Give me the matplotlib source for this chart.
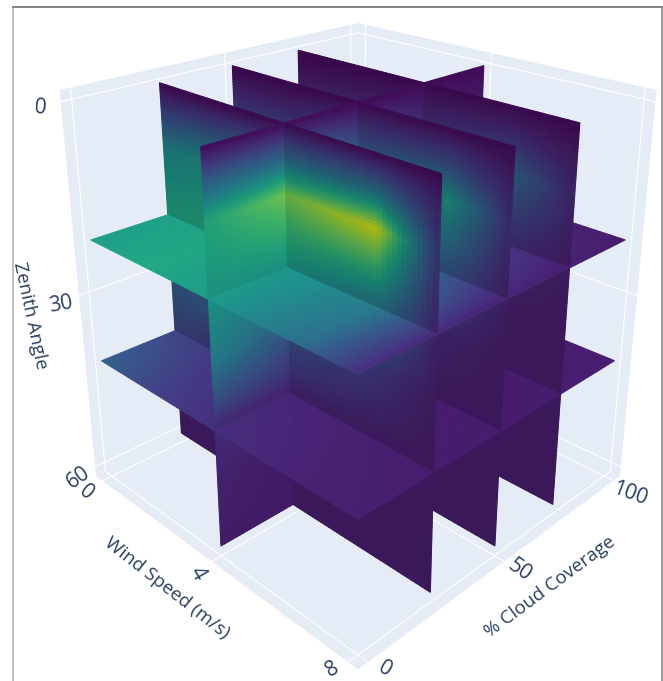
import numpy as np
import matplotlib
matplotlib.use("Agg")
import matplotlib.pyplot as plt
from matplotlib.lines import Line2D
from mpl_toolkits.mplot3d.art3d import Poly3DCollection

plt.rcParams["font.family"] = ["Open Sans", "DejaVu Sans"]

wind_grid = [0, 2, 4, 6.5, 8]
cloud_grid = [0, 25, 50, 75, 100]
zenith_grid = [0, 5, 10, 20, 30, 40, 50, 60]

# values, rows = wind, columns = cloud
zen00 = [[.02, .02, .02, .02, .02], [.02, .02, .02, .02, .02], [.03, .03, .03, .03, .03],
         [.03, .03, .03, .03, .03], [.03, .03, .03, .03, .03]]
zen05 = [[.25, .24, .14, .09, .06], [.30, .28, .15, .10, .06], [.33, .36, .22, .12, .07],
         [.33, .40, .25, .16, .07], [.12, .12, .10, .08, .06]]
zen10 = [[.50, .48, .30, .20, .12], [.55, .55, .32, .22, .12], [.62, .80, .45, .25, .10],
         [.60, .95, .55, .33, .10], [.20, .16, .14, .12, .08]]
zen20 = [[.58, .60, .45, .25, .12], [.62, .62, .45, .25, .12], [.56, .56, .40, .22, .10],
         [.38, .44, .28, .15, .09], [.14, .12, .10, .09, .08]]
zen30 = [[.40, .32, .25, .14, .08], [.42, .38, .25, .14, .08], [.45, .30, .18, .10, .08],
         [.25, .18, .12, .09, .08], [.10, .09, .08, .08, .07]]
zen40 = [[.33, .22, .14, .10, .08], [.20, .16, .11, .09, .08], [.14, .11, .09, .08, .08],
         [.10, .09, .08, .08, .08], [.09, .08, .08, .08, .08]]
zen50 = [[.12, .10, .08, .08, .08], [.10, .09, .08, .08, .08], [.10, .08, .08, .08, .08],
         [.08, .08, .08, .08, .08], [.08, .08, .08, .08, .08]]
zen60 = [[.08, .08, .08, .08, .08], [.08, .08, .08, .08, .08], [.08, .08, .08, .08, .08],
         [.08, .08, .08, .08, .08], [.08, .08, .08, .08, .08]]
volume = np.array([zen00, zen05, zen10, zen20, zen30, zen40, zen50, zen60])

wind_slices = [4]
cloud_slices = [25, 50, 75]
zenith_slices = [21, 41]

wind_ticks = [0, 4, 8]
cloud_ticks = [0, 50, 100]
zenith_ticks = [0, 30, 60]

wind_lim = (-0.26, 8.26)
cloud_lim = (-3.2, 103.2)
zenith_lim = (-1.7, 61.7)

pane_col = "#E5ECF6"
text_col = "#2a3f5f"

W, H = 663, 681
fig = plt.figure(figsize=(W / 100, H / 100), dpi=100, facecolor="white")

# look-at point of the camera sits high up the box, so the z range runs past the panes
S = 859.4
ax = fig.add_axes([(358 - 0.5135 * S) / W, (H - 192 - 0.5135 * S) / H, S / W, S / H],
                  projection="3d")
ax.set_proj_type("persp", focal_length=0.2525)
ax.view_init(elev=21, azim=-45)
ax.set_box_aspect((1, 1, 1.642))
ax.set_xlim(*wind_lim, view_margin=0)
ax.set_ylim(*cloud_lim, view_margin=0)
ax.set_zlim(61.7, -34.7, view_margin=0)
ax.set_axis_off()
ax.computed_zorder = False


def value(w, c, z):
    i = np.interp(z, zenith_grid, np.arange(len(zenith_grid)))
    j = np.interp(w, wind_grid, np.arange(len(wind_grid)))
    k = np.interp(c, cloud_grid, np.arange(len(cloud_grid)))
    i0, j0, k0 = min(int(i), 6), min(int(j), 3), min(int(k), 3)
    di, dj, dk = i - i0, j - j0, k - k0
    out = 0
    for a, wa in ((0, 1 - di), (1, di)):
        for b, wb in ((0, 1 - dj), (1, dj)):
            for d, wd in ((0, 1 - dk), (1, dk)):
                out += wa * wb * wd * volume[i0 + a, j0 + b, k0 + d]
    return out


# panes
wl, wh = wind_lim
cl, ch = cloud_lim
zl, zh = zenith_lim
panes = [
    [(wl, cl, zh), (wh, cl, zh), (wh, ch, zh), (wl, ch, zh)],
    [(wl, cl, zl), (wl, ch, zl), (wl, ch, zh), (wl, cl, zh)],
    [(wl, ch, zl), (wh, ch, zl), (wh, ch, zh), (wl, ch, zh)],
]
pane_coll = Poly3DCollection(panes, facecolors=pane_col, edgecolors=pane_col,
                             linewidths=0, zorder=1)
pane_coll.set_clip_on(False)
ax.add_collection3d(pane_coll)

# grid lines on the panes
grid_kw = dict(color="white", lw=0.8, zorder=2, clip_on=False)
for t in wind_ticks:
    ax.plot([t, t], [cl, ch], [zh, zh], **grid_kw)
    ax.plot([t, t], [ch, ch], [zl, zh], **grid_kw)
for t in cloud_ticks:
    ax.plot([wl, wh], [t, t], [zh, zh], **grid_kw)
    ax.plot([wl, wl], [t, t], [zl, zh], **grid_kw)
for t in zenith_ticks:
    ax.plot([wl, wl], [cl, ch], [t, t], **grid_kw)
    ax.plot([wl, wh], [ch, ch], [t, t], **grid_kw)

# slices, cut into small quads so the depth sort works where they cross
w_steps = np.arange(0, 8.01, 0.125)
c_steps = np.arange(0, 100.01, 1.25)
z_steps = np.arange(0, 60.01, 0.5)
viridis = plt.get_cmap("viridis")
polys = []
colors = []


def add_quad(corners, v, shade):
    polys.append(corners)
    rgb = np.array(viridis(v)[:3]) * shade
    colors.append(rgb)


for wx in wind_slices:
    for c0, c1 in zip(c_steps[:-1], c_steps[1:]):
        for z0, z1 in zip(z_steps[:-1], z_steps[1:]):
            add_quad([(wx, c0, z0), (wx, c1, z0), (wx, c1, z1), (wx, c0, z1)],
                     value(wx, (c0 + c1) / 2, (z0 + z1) / 2), 0.92)
for cx in cloud_slices:
    for w0, w1 in zip(w_steps[:-1], w_steps[1:]):
        for z0, z1 in zip(z_steps[:-1], z_steps[1:]):
            add_quad([(w0, cx, z0), (w1, cx, z0), (w1, cx, z1), (w0, cx, z1)],
                     value((w0 + w1) / 2, cx, (z0 + z1) / 2), 0.8)
for zx in zenith_slices:
    for w0, w1 in zip(w_steps[:-1], w_steps[1:]):
        for c0, c1 in zip(c_steps[:-1], c_steps[1:]):
            add_quad([(w0, c0, zx), (w1, c0, zx), (w1, c1, zx), (w0, c1, zx)],
                     value((w0 + w1) / 2, (c0 + c1) / 2, zx), 1.0)

slice_coll = Poly3DCollection(polys, facecolors=colors, edgecolors=colors,
                              linewidths=0.8, zsort="average", zorder=3)
slice_coll.set_clip_on(False)
ax.add_collection3d(slice_coll)


def label(x, y, s, size, rot):
    fig.text(x / W, 1 - y / H, s, fontsize=size, rotation=rot, color=text_col,
             ha="center", va="center", rotation_mode="anchor")


label(40, 108, "0", 15, -5)
label(61, 305, "30", 15, 10)
label(78, 478, "60", 15, 35)
label(86, 493, "0", 15, -40)
label(197, 573, "4", 15, -60)
label(332, 669, "8", 15, 30)
label(385, 669, "0", 15, -30)
label(520, 570, "50", 15, -35)
label(630, 494, "100", 15, -20)
label(30, 316, "Zenith Angle", 13.5, -78)
label(167, 588, "Wind Speed (m/s)", 13.5, -38)
label(550, 587, "% Cloud Coverage", 13.5, 36.5)

# thin frame of the screenshot, no bottom side
fig.add_artist(Line2D([13 / W, 13 / W], [0, 1 - 7 / H], color="#b4b4b4", lw=1.2))
fig.add_artist(Line2D([13 / W, 662 / W], [1 - 7 / H, 1 - 7 / H], color="#707070", lw=1.2))
fig.add_artist(Line2D([662 / W, 662 / W], [0, 1 - 7 / H], color="#8c8c8c", lw=1.2))

fig.savefig("out.png", dpi=100)
